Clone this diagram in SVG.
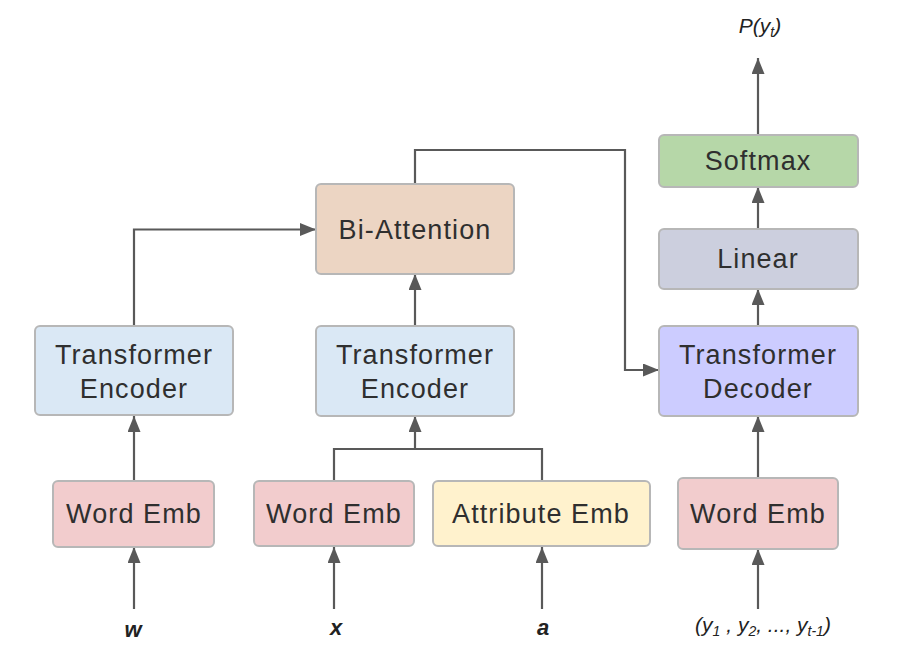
<svg xmlns="http://www.w3.org/2000/svg" width="901" height="651" viewBox="0 0 901 651">
<defs>
<marker id="arr" viewBox="0 0 16 13" refX="16" refY="6.5" markerWidth="16" markerHeight="13" markerUnits="userSpaceOnUse" orient="auto">
<path d="M0,0 L16,6.5 L0,13 Z" fill="#595959"/>
</marker>
<style>
.box{stroke:#b7b7b7;stroke-width:2}
.lbl{font-family:"Liberation Sans",Arial,sans-serif;font-size:27px;fill:#2f2f2f;text-anchor:middle;letter-spacing:1.1px}
.in{font-family:"Liberation Sans",Arial,sans-serif;font-size:22px;font-weight:bold;font-style:italic;fill:#222;text-anchor:middle}
.it{font-family:"Liberation Sans",Arial,sans-serif;font-size:21px;font-style:italic;fill:#222;text-anchor:middle}
.edge{fill:none;stroke:#595959;stroke-width:2.2}
</style>
</defs>
<rect width="901" height="651" fill="#ffffff"/>
<g id="connectors">
<path class="edge" d="M134,609 V547" marker-end="url(#arr)"/>
<path class="edge" d="M134,481 V416" marker-end="url(#arr)"/>
<path class="edge" d="M134,326 V229.5 H316" marker-end="url(#arr)"/>
<path class="edge" d="M334,609 V547" marker-end="url(#arr)"/>
<path class="edge" d="M542,609 V547" marker-end="url(#arr)"/>
<path class="edge" d="M334,481 V449 H542 V481"/>
<path class="edge" d="M415,449 V416" marker-end="url(#arr)"/>
<path class="edge" d="M415,326 V274" marker-end="url(#arr)"/>
<path class="edge" d="M415,184 V150 H625 V370 H659" marker-end="url(#arr)"/>
<path class="edge" d="M758,609 V549" marker-end="url(#arr)"/>
<path class="edge" d="M758,478 V416" marker-end="url(#arr)"/>
<path class="edge" d="M758,326 V289" marker-end="url(#arr)"/>
<path class="edge" d="M758,229 V187" marker-end="url(#arr)"/>
<path class="edge" d="M758,135 V58" marker-end="url(#arr)"/>
</g>
<g id="enc1">
<rect class="box" x="35" y="326" width="198" height="89" rx="5" fill="#dae8f5"/>
<text class="lbl" x="134" y="364">Transformer</text>
<text class="lbl" x="134" y="398">Encoder</text>
</g>
<g id="wemb1">
<rect class="box" x="53" y="481" width="161" height="66" rx="5" fill="#f2cccd"/>
<text class="lbl" x="134" y="523">Word Emb</text>
</g>
<g id="biatt">
<rect class="box" x="316" y="184" width="198" height="90" rx="5" fill="#ecd5c3"/>
<text class="lbl" x="415" y="239">Bi-Attention</text>
</g>
<g id="enc2">
<rect class="box" x="316" y="326" width="198" height="90" rx="5" fill="#dae8f5"/>
<text class="lbl" x="415" y="364">Transformer</text>
<text class="lbl" x="415" y="398">Encoder</text>
</g>
<g id="wemb2">
<rect class="box" x="254" y="481" width="160" height="65" rx="5" fill="#f2cccd"/>
<text class="lbl" x="334" y="523">Word Emb</text>
</g>
<g id="attemb">
<rect class="box" x="433" y="481" width="217" height="65" rx="5" fill="#fff2cd"/>
<text class="lbl" x="541" y="523">Attribute Emb</text>
</g>
<g id="softmax">
<rect class="box" x="659" y="135" width="199" height="52" rx="5" fill="#b6d7a8"/>
<text class="lbl" x="758" y="170">Softmax</text>
</g>
<g id="linear">
<rect class="box" x="659" y="229" width="199" height="60" rx="5" fill="#cccfde"/>
<text class="lbl" x="758" y="268">Linear</text>
</g>
<g id="decoder">
<rect class="box" x="659" y="326" width="199" height="90" rx="5" fill="#ccccff"/>
<text class="lbl" x="758" y="364">Transformer</text>
<text class="lbl" x="758" y="398">Decoder</text>
</g>
<g id="wemb3">
<rect class="box" x="678" y="478" width="160" height="71" rx="5" fill="#f2cccd"/>
<text class="lbl" x="758" y="523">Word Emb</text>
</g>
<g id="labels">
<text class="in" x="133" y="637">w</text>
<text class="in" x="336" y="635">x</text>
<text class="in" x="543" y="635">a</text>
<text class="it" x="760" y="33" font-size="22">P(y<tspan font-size="14" dy="4">t</tspan><tspan dy="-4">)</tspan></text>
<text class="it" x="763" y="632">(y<tspan font-size="14" dy="4">1</tspan><tspan dy="-4"> , y</tspan><tspan font-size="14" dy="4">2</tspan><tspan dy="-4">, ..., y</tspan><tspan font-size="14" dy="4">t-1</tspan><tspan dy="-4">)</tspan></text>
</g>
</svg>
